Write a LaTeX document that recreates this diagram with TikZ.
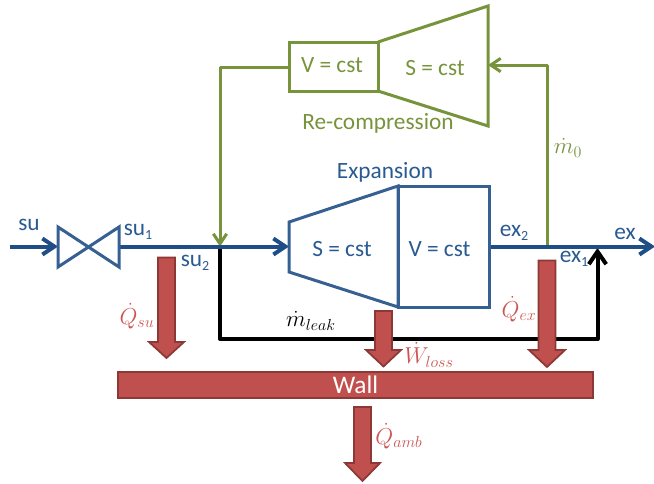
\documentclass[tikz,border=0pt]{standalone}
\usepackage{fontspec}
\setmainfont{Carlito}
\usetikzlibrary{arrows.meta}
\definecolor{lineblue}{HTML}{1F4E86}
\definecolor{boxblue}{HTML}{376092}
\definecolor{txtblue}{HTML}{2A5A92}
\definecolor{grn}{HTML}{77933C}
\definecolor{redfill}{HTML}{C0504D}
\definecolor{redline}{HTML}{8C3836}
\definecolor{redtxt}{HTML}{CC5552}
\newcommand{\heatarrow}[6]{% name, x, top, headstart, tip, head half-width
  \path[heat] (#2-8.5,#3) -- (#2+8.5,#3) -- (#2+8.5,#4) -- (#2+#6,#4) -- (#2,#5) -- (#2-#6,#4) -- (#2-8.5,#4) -- cycle;
  \coordinate (#1) at (#2,#5);}
\newcommand{\lowidx}[1]{\raisebox{-0.35ex}{\fontsize{10.5}{12}\selectfont #1}}
\tikzset{
  x=0.75pt,y=-0.75pt,
  flow/.style={draw=lineblue,line width=3pt},
  flowtip/.style={-{Straight Barb[length=9pt,width=12pt]}},
  blueshape/.style={draw=boxblue,line width=2.25pt,line join=miter},
  greenshape/.style={draw=grn,line width=2.25pt},
  greentip/.style={-{Straight Barb[length=7.5pt,width=10pt]}},
  greenflow/.style={draw=grn,line width=2.25pt,line join=round},
  leak/.style={draw=black,line width=3pt,line join=round},
  leaktip/.style={-{Straight Barb[length=9.5pt,width=13pt]}},
  heat/.style={fill=redfill,draw=redline,line width=1.3pt,line join=miter},
  bluetxt/.style={text=txtblue,font=\fontsize{17.5}{20}\selectfont,inner sep=0pt},
  greentxt/.style={text=grn,font=\fontsize{17.5}{20}\selectfont,inner sep=0pt},
  redtxtst/.style={text=redtxt,font=\fontsize{17}{20}\selectfont,inner sep=0pt},
}
\begin{document}
\begin{tikzpicture}
\useasboundingbox (0,0) rectangle (654,483);
% named points
\coordinate (start) at (10,246.5);
\coordinate (valveL) at (58,246.5);
\coordinate (valveR) at (119,246.5);
\coordinate (junction) at (220,246.5);
\coordinate (expIn) at (289,246.5);
\coordinate (expOut) at (490,246.5);
\coordinate (tap) at (547,246.5);
\coordinate (exit) at (655,246.5);
\coordinate (leakUp) at (597.5,248);
\coordinate (tapTop) at (547,65);
\coordinate (compIn) at (488,65);
\coordinate (compOut) at (289,67);
\coordinate (bendG) at (220,67);
\coordinate (bendK1) at (220,339);
\coordinate (bendK2) at (597.5,339);
% green loop
\draw[greenflow,greentip] (tap) -- (tapTop) -- (compIn);
\draw[greenflow,greentip] (compOut) -- (bendG) -- (junction);
% leak
\draw[leak,leaktip] (junction) -- (bendK1) -- (bendK2) -- (leakUp);
% blue flow
\draw[flow,flowtip] (start) -- (valveL);
\draw[flow,flowtip] (valveR) -- (expIn);
\draw[flow,flowtip] (expOut) -- (exit);
% valve
\draw[blueshape] (58,227) -- (58,267) -- (119,227) -- (119,267) -- cycle;
% expander
\draw[blueshape] (289,222) -- (398,186) -- (398,307) -- (289,272) -- cycle;
\draw[blueshape] (398,186) rectangle (489.5,307);
% compressor
\draw[greenshape] (289,42) rectangle (378,91);
\draw[greenshape] (378,42) -- (488,6) -- (488,126) -- (378,91);
% red arrows
\heatarrow{qsu}{166.5}{257.5}{342}{358}{17.5}
\heatarrow{wloss}{383.5}{311}{350}{366.5}{17.5}
\heatarrow{qex}{547}{260.5}{350}{367}{18}
\heatarrow{qamb}{362.5}{407}{463}{481}{17.5}
% wall
\node[fill=redfill,draw=redline,line width=1.3pt,minimum width=474.5*0.75pt,minimum height=25.5*0.75pt,inner sep=0pt,text=white,font=\fontsize{19}{22}\selectfont] (wall) at (355.5,385) {Wall};
% labels
\node[bluetxt] (lsu) at (29,225) {su};
\node[bluetxt] (lsu1) at (138,232) {su\lowidx{1}};
\node[bluetxt] (lsu2) at (195,263) {su\lowidx{2}};
\node[bluetxt] (lexp) at (385,172) {Expansion};
\node[bluetxt] (ls1) at (342,249) {S = cst};
\node[bluetxt] (lv1) at (439.5,249) {V = cst};
\node[bluetxt] (lex2) at (514,233) {ex\lowidx{2}};
\node[bluetxt] (lex1) at (574,259) {ex\lowidx{1}};
\node[bluetxt] (lex) at (625,234) {ex};
\node[greentxt] (lv2) at (332,65) {V = cst};
\node[greentxt] (ls2) at (435,68) {S = cst};
\node[greentxt] (lrec) at (378,123) {Re-compression};
\node[text=grn,font=\fontsize{17}{20}\selectfont,inner sep=0pt] (lm0) at (568,148) {$\dot m_0$};
\node[font=\fontsize{17}{20}\selectfont,inner sep=0pt] (lml) at (311,321) {$\dot m_{leak}$};
\node[redtxtst] (lqsu) at (137,316) {$\dot Q_{su}$};
\node[redtxtst] (lqex) at (519,309) {$\dot Q_{ex}$};
\node[redtxtst] (lwl) at (429,355) {$\dot W_{loss}$};
\node[redtxtst] (lqa) at (399,436) {$\dot Q_{amb}$};
\end{tikzpicture}
\end{document}
